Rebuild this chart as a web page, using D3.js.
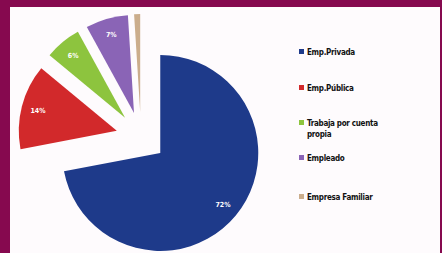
<!DOCTYPE html>
<html><head><meta charset="utf-8">
<script src="https://cdn.jsdelivr.net/npm/d3@7"></script>
<style>html,body{margin:0;padding:0;background:#fff;}svg{display:block;}</style>
</head><body>
<script>
const categories = ["Emp.Privada", "Emp.Pública", "Trabaja por cuenta propia", "Empleado", "Empresa Familiar"];
const values = [72, 14, 6, 7, 1];
const valueLabels = ["72%", "14%", "6%", "7%", ""];
const colors = ["#1e3a8a", "#d2292b", "#8dc43e", "#8a64b6", "#cbad8c"];
const legendLines = [["Emp.Privada"], ["Emp.Pública"], ["Trabaja por cuenta", "propia"], ["Empleado"], ["Empresa Familiar"]];

const W = 442, H = 253;
const svg = d3.select("body").append("svg").attr("width", W).attr("height", H);

// frame
svg.append("rect").attr("width", W).attr("height", H).attr("fill", "#86094f");
svg.append("rect").attr("x", 10).attr("y", 7).attr("width", W - 12).attr("height", H - 7).attr("fill", "#fefbfd");

const cx = 141, cy = 137, r = 98, explode = 25;
const pie = d3.pie().sort(null).value(d => d);
const arcs = pie(values);
const arc = d3.arc().innerRadius(0).outerRadius(r);
const labelArc = d3.arc().innerRadius(r * 0.83).outerRadius(r * 0.83);

const g = svg.append("g").attr("transform", `translate(${cx},${cy})`);
const slices = g.selectAll("g.slice").data(arcs).join("g")
  .attr("class", "slice")
  .attr("transform", d => {
    const a = (d.startAngle + d.endAngle) / 2;
    return `translate(${Math.sin(a) * explode},${-Math.cos(a) * explode})`;
  });
slices.append("path").attr("d", arc).attr("fill", (d, i) => colors[i]);
slices.append("text")
  .attr("transform", d => `translate(${labelArc.centroid(d)})`)
  .attr("text-anchor", "middle").attr("dy", "0.35em")
  .attr("font-family", "DejaVu Sans Condensed, DejaVu Sans, sans-serif")
  .attr("font-weight", "bold").attr("font-size", 7).attr("fill", "#fff")
  .text((d, i) => valueLabels[i]);

// legend
const legendY = [52, 88, 123, 158, 197];
const lg = svg.append("g");
legendLines.forEach((lines, i) => {
  lg.append("rect").attr("x", 299).attr("y", legendY[i] - 3).attr("width", 5).attr("height", 5).attr("fill", colors[i]);
  lines.forEach((t, j) => {
    lg.append("text").attr("x", 307).attr("y", legendY[i] + j * 11).attr("dy", "0.35em")
      .attr("font-family", "DejaVu Sans Condensed, DejaVu Sans, sans-serif")
      .attr("font-weight", "bold").attr("font-size", 8).attr("letter-spacing", -0.3)
      .attr("fill", "#111").text(t);
  });
});
</script>
</body></html>
